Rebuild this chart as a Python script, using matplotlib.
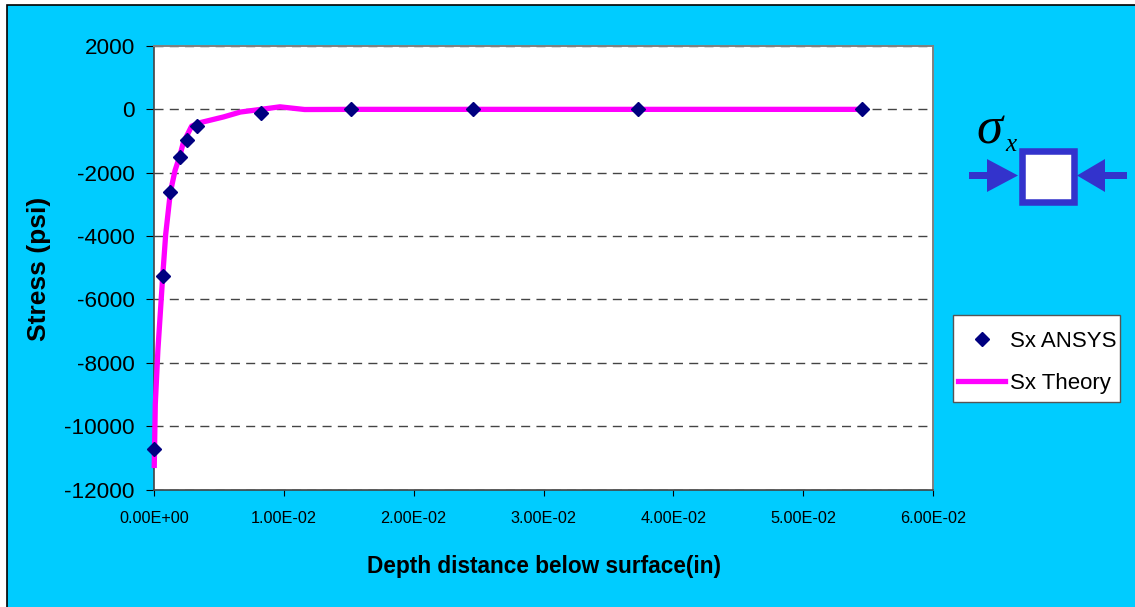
import matplotlib
matplotlib.use("Agg")
import matplotlib.pyplot as plt
from matplotlib.patches import Rectangle, Polygon
from matplotlib.ticker import FixedLocator

plt.rcParams['font.family'] = ['Liberation Sans', 'DejaVu Sans']

# Values
ansys_depth = [0.0, 0.00067, 0.00126, 0.00198, 0.00257, 0.00329, 0.00824,
               0.01518, 0.02458, 0.03729, 0.05455]
ansys_stress = [-10730, -5270, -2620, -1495, -957, -537, -117, 0, 0, 0, 0]

theory_depth = [0.00002, 0.00010, 0.00030, 0.00067, 0.00090, 0.00126, 0.00162,
                0.00198, 0.00226, 0.00290, 0.00355, 0.00535, 0.00665, 0.00824,
                0.00970, 0.01160, 0.01518, 0.02458, 0.03729, 0.05455]
theory_stress = [-11240, -9300, -7600, -5270, -3950, -2620, -1930, -1480, -1050,
                 -530, -420, -240, -85, 0, 80, -5, 0, 0, 0, 0]

y_ticks = [2000, 0, -2000, -4000, -6000, -8000, -10000, -12000]
x_ticks = [0.0, 0.01, 0.02, 0.03, 0.04, 0.05, 0.06]
x_labels = ["0.00E+00", "1.00E-02", "2.00E-02", "3.00E-02", "4.00E-02", "5.00E-02", "6.00E-02"]

W, H = 1135, 607
BG = "#00CCFF"
BLUE = "#3333CC"


def to_fig(x, y, w=0, h=0):
    # pixel box (top-left origin) to figure fractions
    return [x / W, 1 - (y + h) / H, w / W, h / H]


def add_box(x, y, w, h, **kw):
    l, b, fw, fh = to_fig(x, y, w, h)
    fig.patches.append(Rectangle((l, b), fw, fh, transform=fig.transFigure, **kw))


fig = plt.figure(figsize=(W / 100, H / 100), dpi=100, facecolor="white")

# blue chart area, black border only shows on the top and left
add_box(6.5, 5, W, H, facecolor=BG, edgecolor="black", linewidth=1.2, zorder=-1)

ax = fig.add_axes(to_fig(154, 46, 779, 443.5))
ax.set_facecolor("white")
ax.set_xlim(0, 0.06)
ax.set_ylim(-12000, 2000)

ax.yaxis.set_major_locator(FixedLocator(y_ticks))
ax.set_yticklabels([str(v) for v in y_ticks], fontsize=16.2)
ax.set_xticks(x_ticks)
ax.set_xticklabels(x_labels, fontsize=11.7)
ax.tick_params(axis="y", direction="out", length=5.8, width=0.8, pad=8)
ax.tick_params(axis="x", direction="out", length=4.3, width=0.8, pad=11.5)

ax.grid(axis="y", color="#444444", linestyle=(0, (6.5, 4.5)), linewidth=1)
ax.set_axisbelow(True)
for side in ["top", "right"]:
    ax.spines[side].set_color("#808080")
    ax.spines[side].set_linewidth(1.4)
for side in ["left", "bottom"]:
    ax.spines[side].set_color("#444444")
    ax.spines[side].set_linewidth(1.2)

line, = ax.plot(theory_depth, theory_stress, color="#FF00FF", linewidth=3.8,
                solid_joinstyle="round", clip_on=False, label="Sx Theory", zorder=3)
pts, = ax.plot(ansys_depth, ansys_stress, linestyle="none", marker="D", markersize=6.8,
               color="#000080", clip_on=False, label="Sx ANSYS", zorder=4)

fig.text(39 / W, 1 - 269 / H, "Stress (psi)", rotation=90, fontsize=19, fontweight="bold",
         ha="center", va="center")
fig.text(544 / W, 1 - 567 / H, "Depth distance below surface(in)", fontsize=16.3, fontweight="bold",
         ha="center", va="center")

# legend box, frame drawn separately so it can sit at its exact size
add_box(953, 315, 167, 87, facecolor="white", edgecolor="#555555", linewidth=1)
leg = fig.legend(handles=[pts, line], loc="upper left", bbox_to_anchor=(958 / W, 1 - 331 / H),
                 prop={"size": 16}, frameon=False, borderpad=0, labelspacing=0.95,
                 handlelength=2.13, handletextpad=0.22, borderaxespad=0)

# stress element sketch on the right
add_box(1021.5, 151.5, 52.5, 50, facecolor="white", edgecolor=BLUE, linewidth=4.7)
for tail, base, tip in [(969, 987, 1018), (1127, 1105, 1077)]:
    add_box(min(tail, base), 172, abs(base - tail), 7, facecolor=BLUE, edgecolor="none")
    fig.patches.append(Polygon([(base / W, 1 - 159 / H), (base / W, 1 - 192 / H), (tip / W, 1 - 175.5 / H)],
                               closed=True, transform=fig.transFigure, facecolor=BLUE, edgecolor="none"))

fig.text(989 / W, 1 - 131 / H, "σ", fontsize=38, family=["Liberation Serif", "DejaVu Serif"],
         style="italic", ha="center", va="center")
fig.text(1011 / W, 1 - 145 / H, "x", fontsize=18, family=["Liberation Serif", "DejaVu Serif"],
         style="italic", ha="center", va="center")

fig.savefig("out.png", dpi=100, facecolor=fig.get_facecolor())
